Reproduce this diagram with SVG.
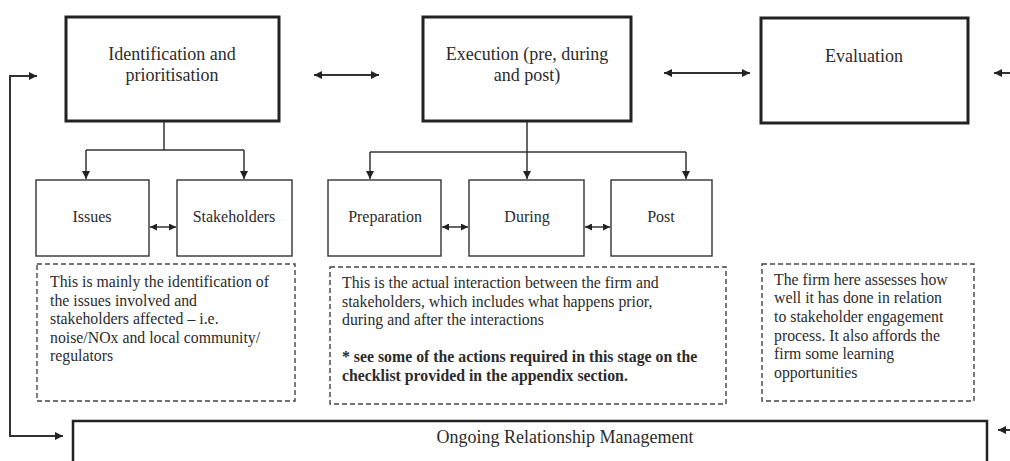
<svg xmlns="http://www.w3.org/2000/svg" width="1010" height="461" viewBox="0 0 1010 461">
<style>
text{font-family:"Liberation Serif",serif;fill:#2b2b2b;font-size:18px}
.c{text-anchor:middle}
.s{font-size:16px}
.main{fill:#fff;stroke:#222;stroke-width:3}
.sub{fill:#fff;stroke:#333;stroke-width:1.4}
.note{fill:#fff;stroke:#444;stroke-width:1.4;stroke-dasharray:5 3}
.ln{fill:none;stroke:#333;stroke-width:1.5}
.th{stroke-width:2}
.t{font-size:15.8px}
.b{font-weight:bold}
</style>
<defs>
<marker id="ah" viewBox="0 0 10 10" refX="10" refY="5" markerWidth="7" markerHeight="7" markerUnits="userSpaceOnUse" orient="auto-start-reverse"><path d="M0,0L10,5L0,10z" fill="#222"/></marker>
<marker id="ahs" viewBox="0 0 10 10" refX="10" refY="5" markerWidth="8" markerHeight="8" markerUnits="userSpaceOnUse" orient="auto-start-reverse"><path d="M0,0L10,5L0,10z" fill="#222"/></marker>
</defs>
<g id="connectors">
<path class="ln th" d="M37,76H10V436H63" marker-start="url(#ahs)" marker-end="url(#ahs)"/>
<path class="ln th" d="M314,75H379" marker-start="url(#ahs)" marker-end="url(#ahs)"/>
<path class="ln th" d="M664,73H750" marker-start="url(#ahs)" marker-end="url(#ahs)"/>
<path class="ln th" d="M1010,73H994" marker-end="url(#ahs)"/>
<path class="ln th" d="M1010,430H998" marker-end="url(#ahs)"/>
<path class="ln" d="M164,122V150"/>
<path class="ln" d="M86,150H244"/>
<path class="ln" d="M86,150V179" marker-end="url(#ahs)"/>
<path class="ln" d="M244,150V179" marker-end="url(#ahs)"/>
<path class="ln" d="M150,227H176" marker-start="url(#ah)" marker-end="url(#ah)"/>
<path class="ln" d="M527,122V179" marker-end="url(#ahs)"/>
<path class="ln" d="M370,152H686"/>
<path class="ln" d="M370,152V179" marker-end="url(#ahs)"/>
<path class="ln" d="M686,152V179" marker-end="url(#ahs)"/>
<path class="ln" d="M442,227H468" marker-start="url(#ah)" marker-end="url(#ah)"/>
<path class="ln" d="M585,227H610" marker-start="url(#ah)" marker-end="url(#ah)"/>
</g>
<g id="identification">
<rect class="main" x="66" y="17" width="213" height="104"/>
<text class="c" x="172" y="60">Identification and</text>
<text class="c" x="172" y="81">prioritisation</text>
</g>
<g id="execution">
<rect class="main" x="423" y="17" width="208" height="104"/>
<text class="c" x="527" y="60">Execution (pre, during</text>
<text class="c" x="527" y="81">and post)</text>
</g>
<g id="evaluation">
<rect class="main" x="761" y="18" width="207" height="105"/>
<text class="c" x="864" y="62">Evaluation</text>
</g>
<g id="issues">
<rect class="sub" x="36" y="180" width="113" height="76"/>
<text class="c s" x="92" y="222">Issues</text>
</g>
<g id="stakeholders">
<rect class="sub" x="177" y="180" width="115" height="76"/>
<text class="c s" x="234" y="222">Stakeholders</text>
</g>
<g id="preparation">
<rect class="sub" x="328" y="180" width="113" height="76"/>
<text class="c s" x="385" y="222">Preparation</text>
</g>
<g id="during">
<rect class="sub" x="469" y="180" width="115" height="76"/>
<text class="c s" x="527" y="222">During</text>
</g>
<g id="post">
<rect class="sub" x="611" y="180" width="101" height="76"/>
<text class="c s" x="661" y="222">Post</text>
</g>
<g id="note-identification">
<rect class="note" x="37" y="264" width="258" height="137"/>
<text class="t" x="50" y="287">This is mainly the identification of</text>
<text class="t" x="50" y="305.5">the issues involved and</text>
<text class="t" x="50" y="324">stakeholders affected – i.e.</text>
<text class="t" x="50" y="342.5">noise/NOx and local community/</text>
<text class="t" x="50" y="361">regulators</text>
</g>
<g id="note-execution">
<rect class="note" x="330" y="267" width="396" height="137"/>
<text class="t" x="342" y="288">This is the actual interaction between the firm and</text>
<text class="t" x="342" y="307">stakeholders, which includes what happens prior,</text>
<text class="t" x="342" y="325">during and after the interactions</text>
<text class="t b" x="342" y="362">* see some of the actions required in this stage on the</text>
<text class="t b" x="342" y="381">checklist provided in the appendix section.</text>
</g>
<g id="note-evaluation">
<rect class="note" x="762" y="264" width="212" height="137"/>
<text class="t" x="774" y="285">The firm here assesses how</text>
<text class="t" x="774" y="303">well it has done in relation</text>
<text class="t" x="774" y="322">to stakeholder engagement</text>
<text class="t" x="774" y="341">process. It also affords the</text>
<text class="t" x="774" y="359">firm some learning</text>
<text class="t" x="774" y="378">opportunities</text>
</g>
<g id="ongoing">
<rect class="main" x="73" y="421" width="914" height="60" style="stroke-width:2.5"/>
<text class="c" x="565" y="443">Ongoing Relationship Management</text>
</g>
</svg>
